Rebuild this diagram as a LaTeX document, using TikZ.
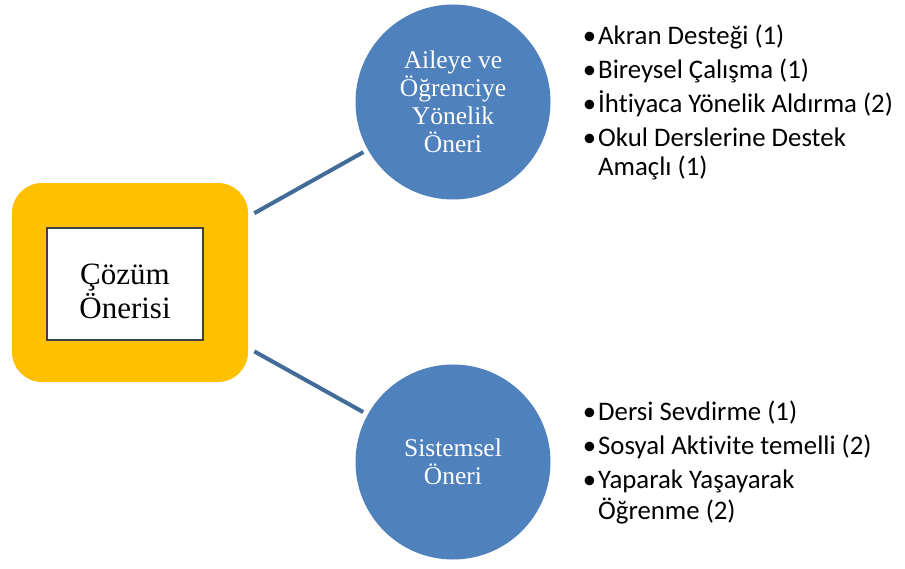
\documentclass[tikz,border=0pt]{standalone}
\usepackage{fontspec}
\setmainfont{Liberation Serif}
\newfontfamily\bulfont[Ligatures=NoCommon]{Carlito}
\definecolor{ygold}{RGB}{255,192,0}
\definecolor{cblue}{RGB}{79,129,189}
\definecolor{lblue}{RGB}{65,107,152}
\definecolor{bordergray}{RGB}{64,64,64}
\tikzset{
  bul/.style={anchor=base west, inner sep=0pt, font=\bulfont\fontsize{26.8}{29}\selectfont, text=black},
  circ/.style={circle, fill=cblue, draw=none, minimum size=195pt, inner sep=0pt, text=white, align=center, font=\fontsize{25.5}{28}\selectfont},
  conn/.style={draw=lblue, line width=4pt, shorten <=7pt, shorten >=5pt}
}
\newcommand{\bl}{\llap{•\kern2pt}}
\begin{document}
\begin{tikzpicture}[x=1pt,y=-1pt]
\path[use as bounding box, fill=white] (0,0) rectangle (905,568);
\node[fill=ygold, rounded corners=30pt, minimum width=236pt, minimum height=199pt, inner sep=0pt] (ybox) at (130,282.5) {};
\node[fill=white, draw=bordergray, line width=1.2pt, minimum width=156pt, minimum height=112pt, inner sep=0pt] (wbox) at (125,284) {};
\node[inner sep=0pt, align=center, font=\fontsize{31}{34}\selectfont] (boxtext) at (125,291) {Çözüm\\Önerisi};
\node[circ] (c1) at (453,102) {Aileye ve\\Öğrenciye\\Yönelik\\Öneri};
\node[circ] (c2) at (453,462) {Sistemsel\\Öneri};
\path[conn] (ybox) -- (c1);
\path[conn] (ybox) -- (c2);
\node[bul] (a1) at (598,44) {\bl Akran Desteği (1)};
\node[bul] (a2) at (598,78) {\bl Bireysel Çalışma (1)};
\node[bul] (a3) at (598,112) {\bl İhtiyaca Yönelik Aldırma (2)};
\node[bul] (a4) at (598,146) {\bl Okul Derslerine Destek};
\node[bul] (a4b) at (598,175) {Amaçlı (1)};
\node[bul] (s1) at (598,420) {\bl Dersi Sevdirme (1)};
\node[bul] (s2) at (598,454) {\bl Sosyal Aktivite temelli (2)};
\node[bul] (s3) at (598,488) {\bl Yaparak Yaşayarak};
\node[bul] (s3b) at (598,519) {Öğrenme (2)};
\end{tikzpicture}
\end{document}
